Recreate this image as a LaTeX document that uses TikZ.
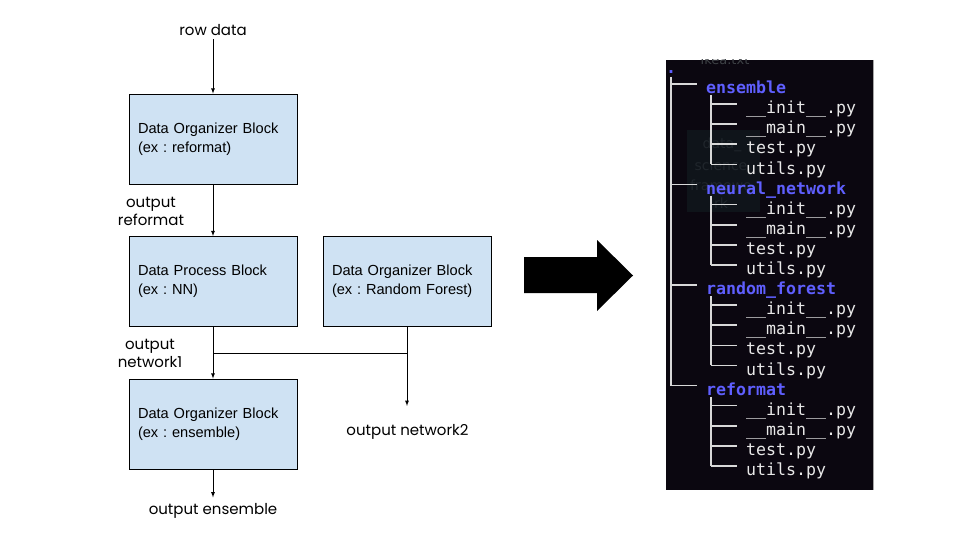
\documentclass[tikz,border=0pt]{standalone}
\usepackage{fontspec}
\setmainfont{Liberation Sans}
\newfontfamily\labelfont{Poppins}
\newfontfamily\termfont{DejaVu Sans Mono}
\newfontfamily\termsans{DejaVu Sans}
\usetikzlibrary{arrows}
\usetikzlibrary{calc}
\usetikzlibrary{positioning}
\tikzset{>=latex}
\frenchspacing

\definecolor{blockfill}{HTML}{CFE2F3}
\definecolor{termbg}{HTML}{0B0710}
\definecolor{dirblue}{HTML}{5F5FFF}
\definecolor{fileclr}{HTML}{E8E8E8}
\definecolor{treeclr}{HTML}{D8D8D8}
\definecolor{ghostclr}{HTML}{20262C}
\definecolor{ghostbg}{HTML}{0F141A}

\tikzset{
    block/.style={draw=black, line width=0.8pt, fill=blockfill, minimum width=168pt,
        minimum height=90pt, text width=150pt, align=left,
        font=\fontsize{14.6}{19}\selectfont},
    flowlabel/.style={align=center, font=\labelfont\fontsize{15}{18}\selectfont},
    flow/.style={->, line width=0.8pt},
    dirname/.style={anchor=mid west, inner sep=0pt, text=dirblue,
        font=\termfont\bfseries\fontsize{16.6}{20}\selectfont},
    filename/.style={anchor=mid west, inner sep=0pt, text=fileclr,
        font=\termfont\fontsize{16.6}{20}\selectfont},
    treeline/.style={draw=treeclr, line width=1.6pt},
    ghost/.style={text=ghostclr, inner sep=0pt, font=\termsans\fontsize{14}{20}\selectfont},
}

\begin{document}
\begin{tikzpicture}[x=1pt,y=-1pt]
    \useasboundingbox (0,0) rectangle (960,540);
    \def\rowh{20.1}

    % Blocks
    \node[block] (orgA) at (213,139) {Data Organizer Block\\(ex : reformat)};
    \node[block] (proc) at (213,281.5) {Data Process Block\\(ex : NN)};
    \node[block] (orgB) at (407,281.5) {Data Organizer Block\\(ex : Random Forest)};
    \node[block] (orgC) at (213,424) {Data Organizer Block\\(ex : ensemble)};

    % Labels
    \node[flowlabel] (rowdata) at (213,30) {row data};
    \node[flowlabel] (outA) at (151,211) {output\\reformat};
    \node[flowlabel] (outN) at (150,353) {output\\network1};
    \node[flowlabel] (outB) at (407.5,432) {output network2};
    \node[flowlabel] (outC) at (213,511) {output ensemble};

    \coordinate (joinA) at ($(proc.south)+(0,26)$);
    \coordinate (joinB) at (orgB.south |- joinA);
    \coordinate (endB) at ($(orgB.south)+(0,79)$);
    \coordinate (endC) at ($(orgC.south)+(0,28)$);

    \draw[flow] (rowdata) -- (orgA);
    \draw[flow] (orgA) -- (proc);
    \draw[flow] (proc.south) -- (orgC.north);
    \draw[line width=0.8pt] (joinA) -- (joinB);
    \draw[flow] (orgB.south) -- (endB);
    \draw[flow] (orgC.south) -- (endC);

    % big arrow
    \fill (524,257) -- (597,257) -- (597,240) -- (633,275.5) -- (597,311) -- (597,293) -- (524,293) -- cycle;

    % terminal
    \fill[termbg] (666,60) rectangle (873,490);
    \draw[gray!70, line width=1pt] (873,60) -- (873,490);
    \node[ghost, text=ghostclr!70!gray, font=\termsans\fontsize{13}{16}\selectfont] (ghostfile) at (725,60) {ikea.txt};
    \fill[white] (680,40) rectangle (780,59.5);
    \fill[ghostbg] (687,130) rectangle (760,212);
    \node[ghost] at (722,145) {data\_};
    \node[ghost] at (721,165) {science};
    \node[ghost] at (721,185) {framewo};
    \node[ghost] at (721,203) {rk};

    \node[dirname] (root) at (666,{91-\rowh}) {.};
    \draw[treeline] (671,77) -- (671,{84+15*\rowh});
    \foreach \dir [count=\i from 0] in {ensemble,neural\_network,random\_forest,reformat} {
        \pgfmathsetmacro\ydir{87+5*\i*\rowh}
        \node[dirname] (dir-\i) at (706,\ydir+4) {\dir};
        \draw[treeline] (671,\ydir-3) -- (697,\ydir-3);
        \draw[treeline] (711,\ydir+8) -- (711,{\ydir+4*\rowh-3});
        \foreach \f [count=\j] in {\_\_init\_\_.py,\_\_main\_\_.py,test.py,utils.py} {
            \pgfmathsetmacro\yfile{\ydir+\j*\rowh}
            \node[filename] (file-\i-\j) at (746,\yfile+4) {\f};
            \draw[treeline] (711,\yfile-3) -- (737,\yfile-3);
        }
    }
\end{tikzpicture}
\end{document}
